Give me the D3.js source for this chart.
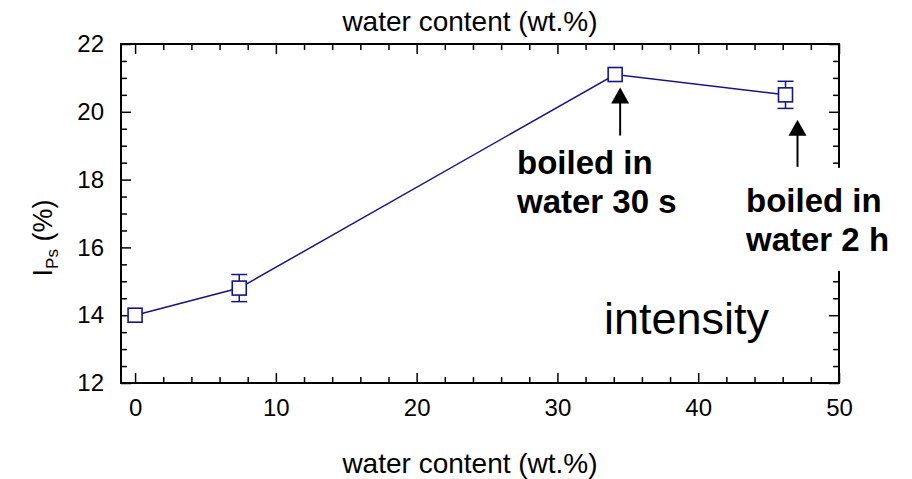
<!DOCTYPE html>
<html>
<head>
<meta charset="utf-8">
<script src="https://cdn.jsdelivr.net/npm/d3@7/dist/d3.min.js"></script>
<style>
  html, body { margin: 0; padding: 0; background: #fff; }
  svg { display: block; font-family: "Liberation Sans", Arial, sans-serif; }
</style>
</head>
<body>
<svg id="chart" width="912" height="479"></svg>
<script>
// Water content (wt.%) and positronium intensity I_Ps (%)
const waterContent = [0, 7.4, 34.1, 46.2];
const intensity = [14.0, 14.8, 21.1, 20.5];
const intensityErr = [0, 0.4, 0, 0.4];

const xMajorTicks = [0, 10, 20, 30, 40, 50];
const yMajorTicks = [12, 14, 16, 18, 20, 22];

// Annotation texts and the point each arrow belongs to
const notes = [
  { lines: ["boiled in", "water 30 s"], index: 2 },
  { lines: ["boiled in", "water 2 h"], index: 3 }
];

const svg = d3.select("#chart");
const m = { left: 121, right: 839, top: 44, bottom: 383 };

const x = d3.scaleLinear().domain([-1, 50]).range([m.left, m.right]);
const y = d3.scaleLinear().domain([12, 22]).range([m.bottom, m.top]);

const navy = "#15158a";
const xMinor = d3.range(0, 50.001, 2).filter(v => v % 10 !== 0);
const yMinor = d3.range(12, 22.001, 0.5).filter(v => v % 2 !== 0);

function styleAxis(g) {
  g.select(".domain").remove();
  g.selectAll("line").attr("stroke", "#000").attr("stroke-width", 1.5);
  g.selectAll("text").attr("fill", "#000").attr("font-size", 24);
}

// bottom axis: ticks point inward
svg.append("g").attr("transform", `translate(0,${m.bottom})`)
  .call(d3.axisBottom(x).tickValues(xMajorTicks).tickSize(-10).tickPadding(16).tickFormat(d3.format("d")))
  .call(styleAxis);
svg.append("g").attr("transform", `translate(0,${m.bottom})`)
  .call(d3.axisBottom(x).tickValues(xMinor).tickSize(-6).tickFormat(""))
  .call(styleAxis);
// top axis
svg.append("g").attr("transform", `translate(0,${m.top})`)
  .call(d3.axisTop(x).tickValues(xMajorTicks).tickSize(-10).tickFormat(""))
  .call(styleAxis);
svg.append("g").attr("transform", `translate(0,${m.top})`)
  .call(d3.axisTop(x).tickValues(xMinor).tickSize(-6).tickFormat(""))
  .call(styleAxis);
// left axis
svg.append("g").attr("transform", `translate(${m.left},0)`)
  .call(d3.axisLeft(y).tickValues(yMajorTicks).tickSize(-10).tickPadding(17).tickFormat(d3.format("d")))
  .call(styleAxis);
svg.append("g").attr("transform", `translate(${m.left},0)`)
  .call(d3.axisLeft(y).tickValues(yMinor).tickSize(-6).tickFormat(""))
  .call(styleAxis);
// right axis
svg.append("g").attr("transform", `translate(${m.right},0)`)
  .call(d3.axisRight(y).tickValues(yMajorTicks).tickSize(-10).tickFormat(""))
  .call(styleAxis);
svg.append("g").attr("transform", `translate(${m.right},0)`)
  .call(d3.axisRight(y).tickValues(yMinor).tickSize(-6).tickFormat(""))
  .call(styleAxis);

// frame
svg.append("rect")
  .attr("x", m.left).attr("y", m.top)
  .attr("width", m.right - m.left).attr("height", m.bottom - m.top)
  .attr("fill", "none").attr("stroke", "#000").attr("stroke-width", 2);

// axis titles
svg.append("text").attr("x", 470).attr("y", 31).attr("text-anchor", "middle")
  .attr("font-size", 28).text("water content (wt.%)");
svg.append("text").attr("x", 470).attr("y", 473).attr("text-anchor", "middle")
  .attr("font-size", 28).text("water content (wt.%)");
const yl = svg.append("text")
  .attr("transform", "translate(52,238) rotate(-90)")
  .attr("text-anchor", "middle").attr("font-size", 27);
yl.append("tspan").text("I");
yl.append("tspan").attr("font-size", 17).attr("dy", 6).text("Ps");
yl.append("tspan").attr("dy", -6).text(" (%)");

const pts = waterContent.map((d, i) => ({ x: d, y: intensity[i], e: intensityErr[i] }));

// connecting line
svg.append("path").datum(pts)
  .attr("fill", "none").attr("stroke", navy).attr("stroke-width", 1.5)
  .attr("d", d3.line().x(d => x(d.x)).y(d => y(d.y)));

// error bars
const eb = svg.append("g").attr("stroke", navy).attr("stroke-width", 1.5);
pts.filter(d => d.e > 0).forEach(d => {
  const cx = x(d.x);
  eb.append("line").attr("x1", cx).attr("x2", cx).attr("y1", y(d.y - d.e)).attr("y2", y(d.y + d.e));
  [d.y - d.e, d.y + d.e].forEach(v => {
    eb.append("line").attr("x1", cx - 8).attr("x2", cx + 8).attr("y1", y(v)).attr("y2", y(v));
  });
});

// open square markers
svg.append("g").selectAll("rect").data(pts).join("rect")
  .attr("x", d => x(d.x) - 7).attr("y", d => y(d.y) - 7)
  .attr("width", 14).attr("height", 14)
  .attr("fill", "#fff").attr("stroke", navy).attr("stroke-width", 1.6);

// annotation arrows + texts (second label sits on an opaque white box over the frame)
const arrowSpecs = [
  { dx: 5, tipGap: 13, len: 48, textX: 517, textY: 174, box: false },
  { dx: 12, tipGap: 25, len: 47, textX: 746, textY: 212, box: true }
];
notes.forEach((n, k) => {
  const p = pts[n.index], s = arrowSpecs[k];
  const ax = x(p.x) + s.dx;
  const tip = y(p.y) + s.tipGap;
  svg.append("line").attr("x1", ax).attr("x2", ax).attr("y1", tip + 12).attr("y2", tip + s.len)
    .attr("stroke", "#000").attr("stroke-width", 2);
  svg.append("path")
    .attr("d", `M${ax},${tip} L${ax - 9},${tip + 16} L${ax + 9},${tip + 16} Z`)
    .attr("fill", "#000");
  if (s.box) {
    svg.append("rect")
      .attr("x", s.textX - 6).attr("y", tip + s.len + 1)
      .attr("width", 160).attr("height", 103)
      .attr("fill", "#fff");
  }
  const t = svg.append("text").attr("x", s.textX).attr("y", s.textY)
    .attr("font-size", 33).attr("font-weight", "bold");
  n.lines.forEach((l, i) => t.append("tspan").attr("x", s.textX).attr("dy", i ? 39 : 0).text(l));
});

svg.append("text").attr("x", 604).attr("y", 334).attr("font-size", 45).text("intensity");
</script>
</body>
</html>
